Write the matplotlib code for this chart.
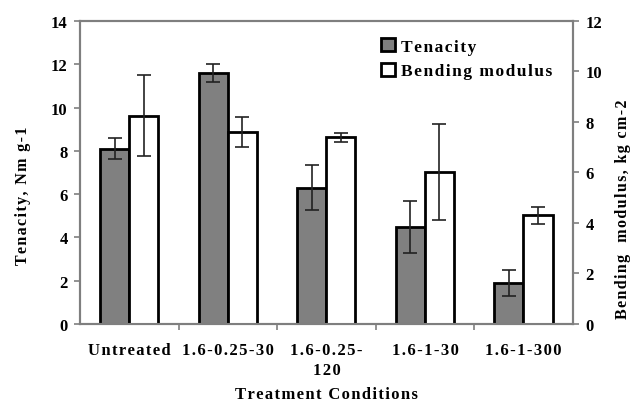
import numpy as np
import matplotlib
matplotlib.use("Agg")
import matplotlib.pyplot as plt
from matplotlib.patches import Patch

# data
conditions = ["Untreated", "1.6-0.25-30", "1.6-0.25-\n120", "1.6-1-30", "1.6-1-300"]
tenacity = [8.1, 11.6, 6.3, 4.5, 1.9]
tenacity_err = [0.5, 0.4, 1.05, 1.2, 0.6]
bending = [8.25, 7.6, 7.4, 6.0, 4.3]
bending_err = [1.6, 0.6, 0.18, 1.9, 0.33]


def spaced(s, gap="\u200a"):
    # loose letter spacing like the original figure
    return "\n".join(gap.join(line) for line in s.split("\n"))


plt.rcParams["font.family"] = "Liberation Serif"
plt.rcParams["font.weight"] = "bold"

fig = plt.figure(figsize=(6.35, 4.06), dpi=100)
ax = fig.add_axes([0.126, 0.1995, 0.776, 0.7465])
ax2 = ax.twinx()

x = np.arange(len(conditions))
w = 0.295
gray = "#808080"
spine_c = "#7f7f7f"

ax.bar(x - w / 2, tenacity, w, color=gray, edgecolor="black", linewidth=2,
       yerr=tenacity_err, error_kw=dict(ecolor="#222222", elinewidth=1.2, capsize=5, capthick=1.2))
ax2.bar(x + w / 2, bending, w, color="white", edgecolor="black", linewidth=2,
        yerr=bending_err, error_kw=dict(ecolor="#222222", elinewidth=1.2, capsize=5, capthick=1.2))

ax.set_xlim(-0.5, len(conditions) - 0.5)
ax.set_ylim(0, 14)
ax2.set_ylim(0, 12)
ax.set_yticks(range(0, 15, 2))
ax2.set_yticks(range(0, 13, 2))

ax.set_xticks(x)
ax.set_xticklabels([spaced(c) for c in conditions], fontsize=12, fontweight="bold", linespacing=1.35)
ax.set_xticks(np.arange(0.5, len(conditions) - 0.5, 1), minor=True)
ax.tick_params(axis="x", which="major", length=0, pad=13)
ax.tick_params(axis="x", which="minor", length=4, direction="out", color=spine_c, width=1.2)
ax.tick_params(axis="y", labelsize=12, direction="out", length=4, color=spine_c, width=1.2, pad=5)
ax2.tick_params(axis="y", labelsize=12, direction="out", length=4, color=spine_c, width=1.2, pad=5)

for a in (ax, ax2):
    for s in a.spines.values():
        s.set_color(spine_c)
        s.set_linewidth(1.5)

ax.set_ylabel(spaced("Tenacity, Nm g-1"), fontsize=11.5, fontweight="bold")
ax2.set_ylabel(spaced("Bending  modulus, kg cm-2"), fontsize=11.5, fontweight="bold")
ax.yaxis.set_label_coords(-0.1, 0.426)
ax2.yaxis.set_label_coords(1.085, 0.383)
ax.set_xlabel(spaced("Treatment Conditions"), fontsize=12, fontweight="bold")
ax.xaxis.set_label_coords(0.5, -0.205)

handles = [Patch(facecolor=gray, edgecolor="black", linewidth=2, label=spaced("Tenacity")),
           Patch(facecolor="white", edgecolor="black", linewidth=2, label=spaced("Bending modulus"))]
ax2.legend(handles=handles, loc="upper left", bbox_to_anchor=(0.58, 0.995), frameon=False,
           handlelength=0.8, handleheight=0.8, handletextpad=0.3, labelspacing=0.45,
           prop=dict(family="Liberation Serif", weight="bold", size=12.5))

fig.savefig("out.png", dpi=100)
